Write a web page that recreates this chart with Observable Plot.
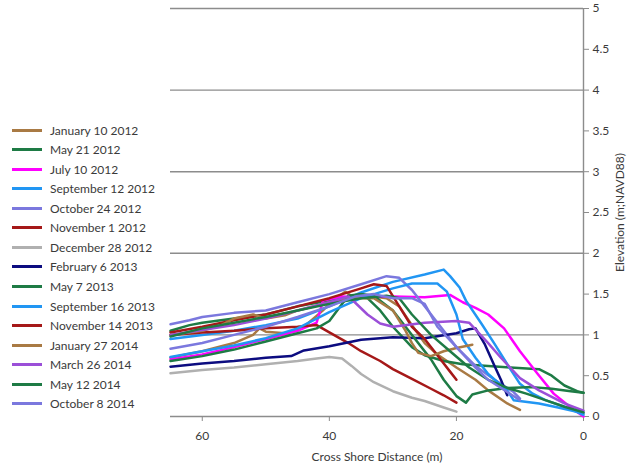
<!DOCTYPE html>
<html>
<head>
<meta charset="utf-8">
<script src="https://cdn.jsdelivr.net/npm/d3@7"></script>
<script src="https://cdn.jsdelivr.net/npm/@observablehq/plot@0.6"></script>
<style>
  html, body { margin: 0; padding: 0; background: #fff; }
  #wrap { position: relative; width: 633px; height: 466px; font-family: Lato, "Open Sans", sans-serif; }
  #legend { position: absolute; left: 0; top: 0; width: 170px; height: 466px; }
  .row { position: absolute; left: 12px; height: 16px; display: flex; align-items: center; font-size: 12px; color: #3a3a3a; white-space: nowrap; }
  .sw { width: 30px; height: 3px; margin-right: 8px; }
</style>
</head>
<body>
<div id="wrap"><div id="legend"></div></div>
<script>
// Series names (legend order) and colours
const seriesNames = [
  "January 10 2012", "May 21 2012", "July 10 2012", "September 12 2012", "October 24 2012",
  "November 1 2012", "December 28 2012", "February 6 2013", "May 7 2013", "September 16 2013",
  "November 14 2013", "January 27 2014", "March 26 2014", "May 12 2014", "October 8 2014"
];
const seriesColors = [
  "#a97a44", "#1e7b45", "#ff00ff", "#2196f3", "#7b78de",
  "#a51818", "#b0b0b0", "#0c0c80", "#1e7b45", "#2196f3",
  "#a51818", "#a97a44", "#9b4fd8", "#1e7b45", "#7b78de"
];
const xTicks = [60, 40, 20, 0];
const yTicks = [0, 0.5, 1, 1.5, 2, 2.5, 3, 3.5, 4, 4.5, 5];
const yGrid = [1, 2, 3, 4, 5];

// [cross-shore distance (m), elevation (m NAVD88)]
const jan10_2012 = [[65,0.72],[62,0.77],[60,0.8],[57,0.86],[55,0.9],[52,1.0],[51,1.08],[50,1.04],[47,1.02],[44,1.1],[41,1.3],[39.5,1.42],[37.5,1.53],[36,1.45],[33,1.47],[31,1.45],[29,1.35],[27,1.12],[25,0.9],[23,0.76],[20,0.6],[17,0.45],[15,0.32],[12,0.16],[10,0.08]];
const may21_2012 = [[65,1.05],[62,1.12],[60,1.15],[55,1.2],[50,1.25],[45,1.35],[40,1.42],[36,1.47],[34,1.45],[32,1.3],[30,1.1],[27,0.85],[25,0.75],[22,0.68],[19,0.64],[15,0.62],[11.5,0.6],[7,0.58],[5,0.5],[3,0.38],[1,0.31],[0,0.29]];
const jul10_2012 = [[65,0.7],[60,0.76],[55,0.85],[50,0.95],[45,1.05],[42,1.15],[41,1.42],[38,1.47],[35,1.46],[30,1.47],[25,1.46],[21,1.49],[19,1.4],[17,1.33],[15,1.25],[12.5,1.08],[10,0.8],[7.2,0.52],[4.7,0.28],[2,0.11],[0,0]];
const sep12_2012 = [[65,0.95],[60,1.0],[55,1.05],[50,1.12],[45,1.2],[40,1.35],[35,1.52],[30,1.65],[25,1.74],[22,1.8],[21,1.72],[19.5,1.58],[18.5,1.42],[16,1.13],[14,0.89],[12,0.64],[10,0.4],[8,0.28],[6,0.2],[3,0.12],[0,0.02]];
const oct24_2012 = [[65,1.13],[62,1.18],[60,1.22],[55,1.27],[50,1.3],[45,1.4],[40,1.5],[35,1.62],[31,1.72],[29,1.7],[27,1.55],[25,1.35],[22,1.05],[20,0.85],[17,0.62],[14,0.45],[11,0.3],[10,0.22]];
const nov1_2012 = [[65,1.0],[60,1.03],[55,1.05],[50,1.08],[45,1.1],[42,1.12],[40,1.03],[37,0.9],[35,0.8],[32,0.68],[30,0.58],[27,0.46],[24,0.34],[22,0.26],[20,0.17]];
const dec28_2012 = [[65,0.53],[60,0.57],[55,0.6],[50,0.64],[45,0.68],[42,0.71],[40,0.73],[38,0.71],[36.5,0.62],[35,0.52],[33,0.42],[30,0.31],[27,0.23],[25,0.19],[22,0.11],[20,0.06]];
const feb6_2013 = [[65,0.61],[60,0.65],[55,0.68],[50,0.72],[46,0.74],[44,0.81],[40,0.86],[35,0.94],[30,0.97],[25,0.96],[20,1.02],[18,1.07],[17,1.08],[15.5,0.88],[14,0.62],[13,0.45],[12,0.26]];
const may7_2013 = [[65,0.68],[60,0.74],[55,0.82],[50,0.92],[45,1.02],[42,1.08],[40,1.17],[38,1.38],[37,1.48],[35,1.5],[33,1.48],[30,1.3],[27,1.0],[24,0.7],[22,0.45],[20,0.25],[18.5,0.17],[17.5,0.27],[15,0.32],[12,0.35],[8,0.36],[5,0.34],[2,0.31],[0,0.29]];
const sep16_2013 = [[65,0.73],[60,0.8],[55,0.87],[50,0.96],[45,1.08],[40,1.28],[35,1.45],[30,1.57],[27,1.63],[23,1.63],[21.5,1.53],[20,1.25],[19,0.95],[17,0.72],[15,0.52],[12,0.32],[11,0.2],[7,0.16],[4,0.11],[0,0.04]];
const nov14_2013 = [[65,1.03],[60,1.1],[55,1.18],[50,1.25],[45,1.35],[40,1.45],[35,1.57],[33,1.62],[31,1.6],[29,1.35],[27,1.1],[25,0.95],[23,0.75],[21,0.55],[20,0.45]];
const jan27_2014 = [[65,1.0],[60,1.05],[57,1.12],[55,1.2],[52,1.25],[50,1.2],[47,1.24],[45,1.3],[40,1.4],[36,1.45],[33,1.45],[30,1.3],[28,1.05],[27,0.9],[26,0.78],[24,0.74],[22,0.8],[20,0.84],[17.5,0.88]];
const mar26_2014 = [[65,1.0],[60,1.06],[55,1.12],[50,1.2],[45,1.3],[40,1.4],[37,1.47],[36,1.4],[34,1.25],[32,1.14],[30,1.1],[25,1.15],[20,1.17],[18,1.15],[15,0.9],[13,0.72],[10,0.47],[7,0.32],[3,0.16],[0,0.07]];
const may12_2014 = [[65,0.98],[60,1.08],[55,1.15],[50,1.22],[45,1.3],[40,1.38],[35,1.45],[31,1.48],[29,1.45],[27,1.25],[24,1.0],[21,0.8],[18,0.6],[15,0.45],[12,0.35],[9,0.28],[6,0.2],[3,0.12],[0,0.05]];
const oct8_2014 = [[65,0.83],[60,0.9],[55,1.0],[50,1.1],[45,1.22],[40,1.35],[36,1.47],[33,1.5],[30,1.45],[27,1.45],[25,1.38],[23,1.1],[20,0.85],[17,0.6],[15,0.45],[12,0.3],[10,0.2]];

const seriesData = [jan10_2012, may21_2012, jul10_2012, sep12_2012, oct24_2012, nov1_2012, dec28_2012,
  feb6_2013, may7_2013, sep16_2013, nov14_2013, jan27_2014, mar26_2014, may12_2014, oct8_2014];

const rows = seriesData.flatMap((pts, i) => pts.map(([d, e]) => ({series: seriesNames[i], d, e})));

const gray = "#8c8c8c";
const chart = Plot.plot({
  width: 633,
  height: 466,
  marginLeft: 170,
  marginRight: 50,
  marginTop: 8,
  marginBottom: 50,
  style: {fontFamily: "Lato, 'Open Sans', sans-serif", fontSize: "12px", color: "#3a3a3a", background: "#fff"},
  x: {domain: [65, 0]},
  y: {domain: [0, 5]},
  color: {domain: seriesNames, range: seriesColors},
  marks: [
    Plot.gridY(yGrid, {stroke: gray, strokeOpacity: 1, strokeWidth: 1.4}),
    Plot.ruleY([0], {stroke: gray, strokeWidth: 1.4}),
    Plot.ruleX([0], {stroke: gray, strokeWidth: 1.4}),
    Plot.axisX({ticks: xTicks, tickSize: 5, tickPadding: 10, stroke: gray, label: "Cross Shore Distance (m)", labelAnchor: "center", labelOffset: 44, labelArrow: "none"}),
    Plot.axisY({anchor: "right", ticks: yTicks, tickSize: 5, tickPadding: 4, stroke: gray, tickFormat: d => String(d), label: "Elevation (m;NAVD88)", labelAnchor: "center", labelOffset: 40, labelArrow: "none"}),
    Plot.line(rows, {x: "d", y: "e", z: "series", stroke: "series", strokeWidth: 2.5, curve: "linear"})
  ]
});
document.getElementById("wrap").appendChild(chart);
chart.style.position = "absolute";
chart.style.left = "0";
chart.style.top = "0";

const legend = document.getElementById("legend");
seriesNames.forEach((name, i) => {
  const r = document.createElement("div");
  r.className = "row";
  r.style.top = (130 + i * 19.57 - 8) + "px";
  const sw = document.createElement("div");
  sw.className = "sw";
  sw.style.background = seriesColors[i];
  r.appendChild(sw);
  r.appendChild(document.createTextNode(name));
  legend.appendChild(r);
});
document.getElementById("wrap").appendChild(legend);
</script>
</body>
</html>
